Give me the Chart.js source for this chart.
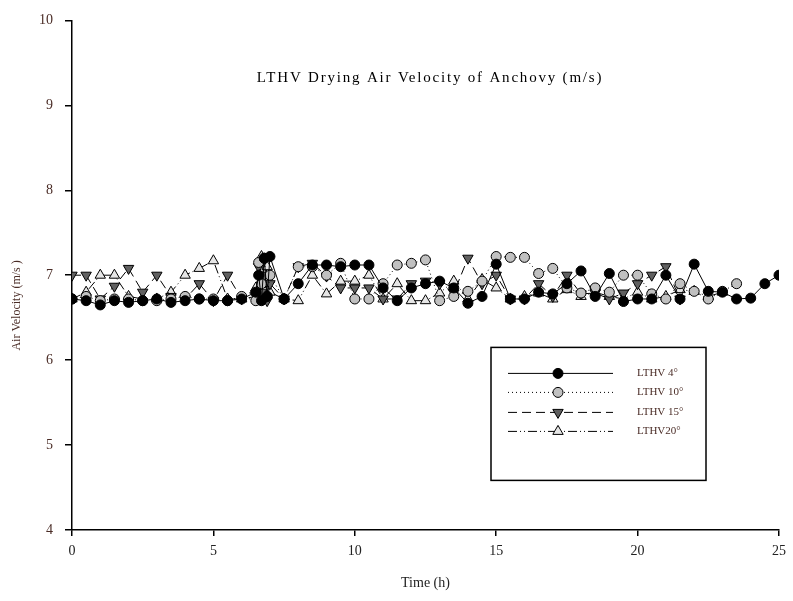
<!DOCTYPE html>
<html>
<head>
<meta charset="utf-8">
<script src="https://cdn.jsdelivr.net/npm/chart.js@4.4.0/dist/chart.umd.min.js"></script>
<style>
  html, body { margin: 0; background: #fff; }
  #wrap { width: 793px; height: 601px; }
</style>
</head>
<body>
<div id="wrap"><canvas id="chart"></canvas></div>
<script>
/* LTHV drying air velocity chart */

const chartTitle = "LTHV Drying Air Velocity of Anchovy (m/s)";
const yTitle = "Air Velocity (m/s )";
const seriesLabels = ['LTHV 4°', 'LTHV 10°', 'LTHV 15°', 'LTHV20°'];
const xTickValues = [0, 5, 10, 15, 20, 25];
const yTickValues = [4, 5, 6, 7, 8, 9, 10];

// Time (h)
const t4  = [0,0.5,1,1.5,2,2.5,3,3.5,4,4.5,5,5.5,6,6.5,6.6,6.7,6.8,6.9,7,7.5,8,8.5,9,9.5,10,10.5,11,11.5,12,12.5,13,13.5,14,14.5,15,15.5,16,16.5,17,17.5,18,18.5,19,19.5,20,20.5,21,21.5,22,22.5,23,23.5,24,24.5,25];
const t10 = [0,0.5,1,1.5,2,2.5,3,3.5,4,4.5,5,5.5,6,6.5,6.6,6.7,6.8,6.9,7,7.5,8,8.5,9,9.5,10,10.5,11,11.5,12,12.5,13,13.5,14,14.5,15,15.5,16,16.5,17,17.5,18,18.5,19,19.5,20,20.5,21,21.5,22,22.5,23,23.5];
const t15 = [0,0.5,1,1.5,2,2.5,3,3.5,4,4.5,5,5.5,6,6.5,6.6,6.7,6.8,6.9,7,7.5,8,8.5,9,9.5,10,10.5,11,11.5,12,12.5,13,13.5,14,14.5,15,15.5,16,16.5,17,17.5,18,18.5,19,19.5,20,20.5,21,21.5];
const t20 = [0,0.5,1,1.5,2,2.5,3,3.5,4,4.5,5,5.5,6,6.5,6.6,6.7,6.8,6.9,7,7.5,8,8.5,9,9.5,10,10.5,11,11.5,12,12.5,13,13.5,14,14.5,15,15.5,16,16.5,17,17.5,18,18.5,19,19.5,20,20.5,21,21.5,22,22.5,23];

// Air velocity (m/s)
const v4  = [6.72,6.7,6.65,6.7,6.68,6.7,6.72,6.68,6.7,6.72,6.7,6.7,6.72,6.8,7.0,6.7,7.2,6.75,7.22,6.72,6.9,7.12,7.12,7.1,7.12,7.12,6.85,6.7,6.85,6.9,6.93,6.85,6.67,6.75,7.13,6.72,6.72,6.8,6.78,6.9,7.05,6.75,7.02,6.69,6.72,6.72,7.0,6.72,7.13,6.81,6.8,6.72,6.73,6.9,7.0];
const v10 = [6.72,6.75,6.7,6.72,6.72,6.7,6.7,6.72,6.75,6.72,6.72,6.7,6.75,6.7,7.15,6.9,7.2,6.75,7.0,6.72,7.1,7.1,7.0,7.14,6.72,6.72,6.9,7.12,7.14,7.18,6.7,6.75,6.81,6.93,7.22,7.21,7.21,7.02,7.08,6.85,6.79,6.85,6.8,7.0,7.0,6.78,6.72,6.9,6.81,6.72,6.81,6.9];
const v15 = [7.0,7.0,6.72,6.87,7.08,6.8,7.0,6.75,6.72,6.9,6.7,7.0,6.72,6.75,7.1,6.8,7.0,6.7,6.9,6.72,7.1,7.14,6.99,6.85,6.85,6.85,6.72,6.72,6.9,6.93,6.9,6.79,7.2,6.9,7.0,6.72,6.72,6.9,6.75,7.0,6.78,6.79,6.72,6.79,6.9,7.0,7.1,6.72];
const v20 = [6.72,6.8,7.0,7.0,6.75,6.72,6.72,6.8,7.0,7.08,7.17,6.72,6.72,6.85,6.7,7.22,6.9,7.1,6.8,6.72,6.7,7.0,6.78,6.93,6.93,7.0,6.72,6.9,6.7,6.7,6.79,6.93,6.72,6.95,6.85,6.72,6.75,6.79,6.72,6.83,6.75,6.8,6.75,6.72,6.8,6.72,6.75,6.83,6.81,6.75,6.8];

function pairs(ts, vs) {
  return ts.map((t, i) => ({ x: t, y: vs[i] }));
}

const serif = '"Liberation Serif", "Times New Roman", serif';
const labelColor = '#4a2c26';

const datasets = [
  {
    label: seriesLabels[0],
    data: pairs(t4, v4),
    borderColor: '#000',
    borderWidth: 1,
    pointStyle: 'circle',
    pointRadius: 5,
    pointBackgroundColor: '#000',
    pointBorderColor: '#000',
    pointBorderWidth: 1,
    borderDash: []
  },
  {
    label: seriesLabels[1],
    data: pairs(t10, v10),
    borderColor: '#000',
    borderWidth: 1,
    pointStyle: 'circle',
    pointRadius: 5,
    pointBackgroundColor: '#c0c0c0',
    pointBorderColor: '#000',
    pointBorderWidth: 1,
    borderDash: [1, 3]
  },
  {
    label: seriesLabels[2],
    data: pairs(t15, v15),
    borderColor: '#000',
    borderWidth: 1,
    pointStyle: 'triangle',
    pointRotation: 180,
    pointRadius: 6,
    pointBackgroundColor: '#606060',
    pointBorderColor: '#000',
    pointBorderWidth: 1,
    borderDash: [9, 5]
  },
  {
    label: seriesLabels[3],
    data: pairs(t20, v20),
    borderColor: '#000',
    borderWidth: 1,
    pointStyle: 'triangle',
    pointRotation: 0,
    pointRadius: 6,
    pointBackgroundColor: '#e6e6e6',
    pointBorderColor: '#000',
    pointBorderWidth: 1,
    borderDash: [9, 3, 1, 3, 1, 3]
  }
];

// title inside the plot area, y-axis title a bit below centre
const extraText = {
  id: 'extraText',
  afterDraw(chart) {
    const ctx = chart.ctx;
    const area = chart.chartArea;
    ctx.save();
    ctx.font = '15px ' + serif;
    ctx.letterSpacing = '1.8px';
    ctx.fillStyle = '#000';
    ctx.textAlign = 'center';
    ctx.textBaseline = 'middle';
    ctx.fillText(chartTitle, area.left + 358, area.top + 58);
    ctx.restore();

    ctx.save();
    ctx.translate(17, area.top + 285);
    ctx.rotate(-Math.PI / 2);
    ctx.font = '12px ' + serif;
    ctx.fillStyle = labelColor;
    ctx.textAlign = 'center';
    ctx.textBaseline = 'middle';
    ctx.fillText(yTitle, 0, 0);
    ctx.restore();
  }
};

// boxed legend with line + marker samples
const boxLegend = {
  id: 'boxLegend',
  afterDraw(chart) {
    const ctx = chart.ctx;
    const area = chart.chartArea;
    const left = area.left + 419, top = area.top + 327;
    const w = 215, h = 133;
    ctx.save();
    ctx.fillStyle = '#fff';
    ctx.fillRect(left, top, w, h);
    ctx.strokeStyle = '#000';
    ctx.lineWidth = 1.5;
    ctx.strokeRect(left, top, w, h);

    const rows = [26, 45, 65, 84];
    chart.data.datasets.forEach((ds, i) => {
      const y = top + rows[i];
      ctx.save();
      ctx.strokeStyle = '#000';
      ctx.lineWidth = 1;
      ctx.setLineDash(ds.borderDash);
      ctx.beginPath();
      ctx.moveTo(left + 17, y);
      ctx.lineTo(left + 122, y);
      ctx.stroke();
      ctx.setLineDash([]);
      ctx.fillStyle = ds.pointBackgroundColor;
      ctx.strokeStyle = ds.pointBorderColor;
      ctx.lineWidth = 1;
      Chart.helpers.drawPoint(ctx, {
        pointStyle: ds.pointStyle,
        rotation: ds.pointRotation || 0,
        radius: ds.pointRadius,
        borderWidth: 1
      }, left + 67, y);
      ctx.restore();

      ctx.font = '11px ' + serif;
      ctx.fillStyle = labelColor;
      ctx.textAlign = 'left';
      ctx.textBaseline = 'middle';
      ctx.fillText(ds.label, left + 146, y);
    });
    ctx.restore();
  }
};

const ctx = document.getElementById('chart');

new Chart(ctx, {
  type: 'line',
  data: { datasets: datasets },
  plugins: [extraText, boxLegend],
  options: {
    animation: false,
    responsive: true,
    maintainAspectRatio: false,
    layout: { padding: { left: 0, right: 14, top: 18, bottom: 0 } },
    plugins: {
      legend: { display: false },
      title: { display: false },
      tooltip: { enabled: false }
    },
    scales: {
      x: {
        type: 'linear',
        min: 0,
        max: 25,
        afterFit: (scale) => { scale.height = 71; },
        afterBuildTicks: (scale) => { scale.ticks = xTickValues.map(v => ({ value: v })); },
        border: { color: '#000', width: 1.5 },
        grid: { drawOnChartArea: false, drawTicks: true, tickLength: 6, color: '#000', lineWidth: 1.5 },
        ticks: { color: '#222', font: { family: serif, size: 14 }, padding: 7, maxRotation: 0 },
        title: { display: true, text: 'Time (h)', color: '#222', font: { family: serif, size: 14 }, padding: { top: 0, bottom: 9 } }
      },
      y: {
        type: 'linear',
        min: 4,
        max: 10,
        afterFit: (scale) => { scale.width = 72; },
        afterBuildTicks: (scale) => { scale.ticks = yTickValues.map(v => ({ value: v })); },
        border: { color: '#000', width: 1.5 },
        grid: { drawOnChartArea: false, drawTicks: true, tickLength: 7, color: '#000', lineWidth: 1.5 },
        ticks: { color: labelColor, font: { family: serif, size: 14 }, padding: 12 },
        title: { display: false }
      }
    }
  }
});
</script>
</body>
</html>
